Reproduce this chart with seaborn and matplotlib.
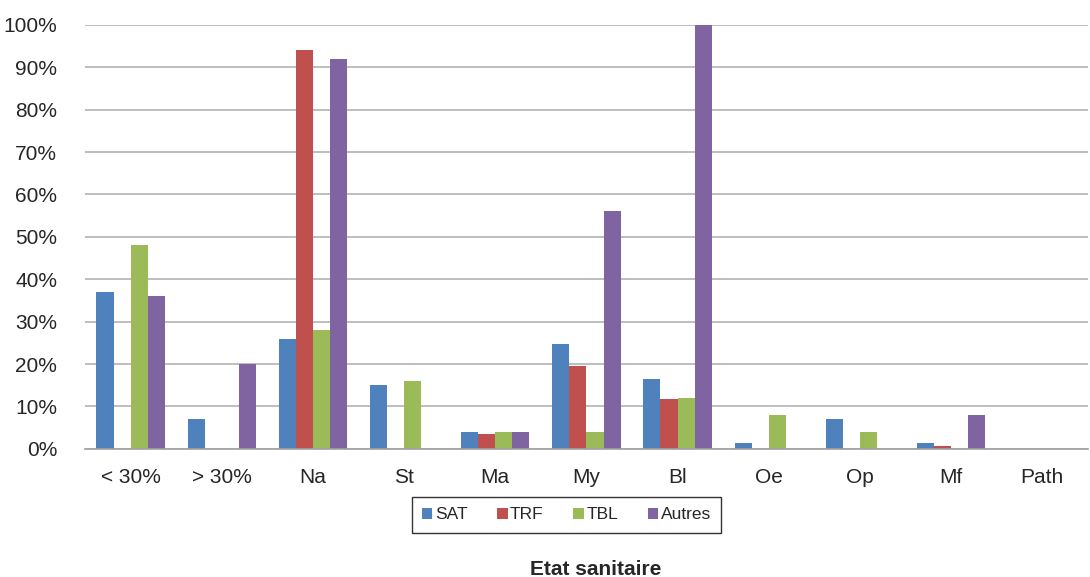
import pandas as pd
import numpy as np
import seaborn as sns
import matplotlib.pyplot as plt
from matplotlib.ticker import PercentFormatter, FixedLocator

categories = ['< 30%', '> 30%', 'Na', 'St', 'Ma', 'My', 'Bl', 'Oe', 'Op', 'Mf', 'Path']
sat = [37, 7, 26, 15, 4, 24.7, 16.4, 1.3, 7, 1.3, 0]
trf = [0, 0, 94, 0, 3.5, 19.5, 11.8, 0, 0, 0.6, 0]
tbl = [48, 0, 28, 16, 4, 4, 12, 8, 4, 0, 0]
autres = [36, 20, 92, 0, 4, 56, 100, 0, 0, 8, 0]

series = {'SAT': sat, 'TRF': trf, 'TBL': tbl, 'Autres': autres}
colors = ['#4F81BD', '#C0504D', '#9BBB59', '#8064A2']

rows = []
for name, vals in series.items():
    for cat, v in zip(categories, vals):
        rows.append({'cat': cat, 'serie': name, 'val': v})
df = pd.DataFrame(rows)

sns.set_style("white")
plt.rcParams['font.family'] = ['Liberation Sans', 'DejaVu Sans']

fig = plt.figure(figsize=(10.9, 5.77), dpi=100)
ax = fig.add_axes([0.078, 0.222, 0.92, 0.735])

sns.barplot(data=df, x='cat', y='val', hue='serie', palette=colors, width=0.75,
            saturation=1, ax=ax, edgecolor='none', legend=True)

ax.set_ylim(0, 100)
ax.set_xlim(-0.5, len(categories) - 0.5)
ax.yaxis.set_major_locator(FixedLocator(np.arange(0, 101, 10)))
ax.yaxis.set_major_formatter(PercentFormatter(decimals=0))
ax.grid(axis='y', color='#b3b3b3', linewidth=1.2)
ax.set_axisbelow(True)

for s in ['top', 'right', 'left']:
    ax.spines[s].set_visible(False)
ax.spines['bottom'].set_color('#a0a0a0')
ax.spines['bottom'].set_linewidth(1.2)

ax.tick_params(axis='y', length=0, labelsize=15, pad=20)
ax.tick_params(axis='x', which='major', length=0, labelsize=15, pad=14)
ax.set_xticks(np.arange(-0.5, len(categories), 1), minor=True)
ax.tick_params(axis='x', which='minor', length=6, color='#a0a0a0', width=1.2)

ax.set_ylabel('')
ax.set_xlabel('Etat sanitaire', fontsize=15, fontweight='bold')
ax.xaxis.set_label_coords(0.509, -0.262)

handles, labels = ax.get_legend_handles_labels()
ax.legend(handles, labels, loc='center', bbox_to_anchor=(0.48, -0.155), ncol=4,
          frameon=True, fancybox=False, edgecolor='black', fontsize=12.5,
          handlelength=0.6, handleheight=0.6, handletextpad=0.15, columnspacing=1.7,
          borderpad=0.6)

fig.savefig('out.png', dpi=100)
